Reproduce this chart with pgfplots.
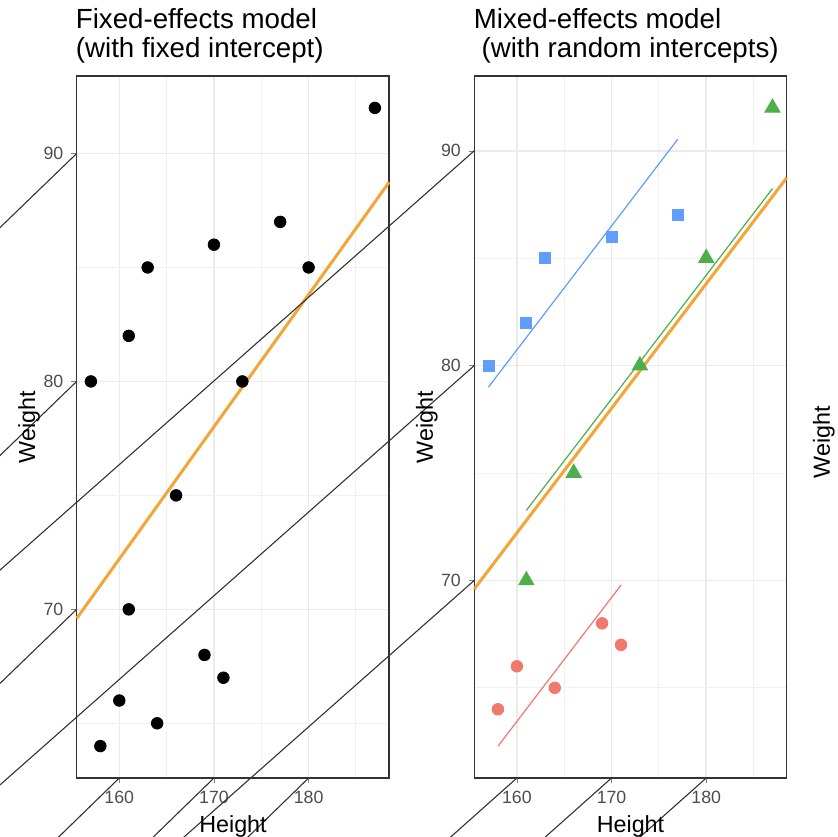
\documentclass[border=0pt]{standalone}
\usepackage{fontspec}
\setmainfont{Liberation Sans}
\usepackage{pgfplots}
\pgfplotsset{compat=1.18}

\definecolor{gridmaj}{HTML}{EBEBEB}
\definecolor{gridmin}{HTML}{F1F1F1}
\definecolor{border}{HTML}{333333}
\definecolor{ticklab}{HTML}{4D4D4D}
\definecolor{fitline}{HTML}{F5A536}
\definecolor{grpred}{HTML}{F0786C}
\definecolor{grpgreen}{HTML}{4DAF4A}
\definecolor{grpblue}{HTML}{619CFF}

\tikzset{tk/.style={draw=border, line width=0.55bp}}

\pgfplotsset{
  panel/.style={
    scale only axis, width=156.2bp, height=351bp,
    xmin=155.5, xmax=188.5,
    xtick={160,170,180}, minor xtick={155,165,175,185},
    ytick={70,80,90}, minor ytick={65,75,85},
    grid=both,
    major grid style={color=gridmaj, line width=0.75bp},
    minor grid style={color=gridmin, line width=0.45bp},
    axis line style={color=border, line width=0.6bp},
    tick align=outside, tick pos=left,
    major tick length=2.6bp, minor tick length=0pt,
    ticklabel style={font=\fontsize{8.9}{10}\selectfont, color=ticklab},
    xticklabel style={yshift=-0.4bp},
    yticklabel style={xshift=-0.6bp},
    /pgf/number format/assume math mode=true,
    clip=false,
    anchor=south west,
  },
}

\begin{document}
\begin{tikzpicture}
\path[use as bounding box] (0,0) rectangle (419bp,418.5bp);

% fixed-effects panel
\begin{axis}[panel, at={(38.35bp,29.5bp)}, ymin=62.6, ymax=93.4]
  \addplot[fitline, line width=1.5bp] coordinates {(155.5,69.6) (188.5,88.74)};
  \addplot[only marks, mark=*, mark size=2.9bp, black] coordinates {
    (157,80) (158,64) (160,66) (161,82) (161,70) (163,85) (164,65) (166,75)
    (169,68) (170,86) (171,67) (173,80) (177,87) (180,85) (187,92)};
  % tick marks
  \draw[tk] (axis cs:160,62.6) -- ++(0,-2.6bp);
  \draw[tk] (axis cs:170,62.6) -- ++(0,-2.6bp);
  \draw[tk] (axis cs:180,62.6) -- ++(0,-2.6bp);
  \draw[tk] (axis cs:155.5,70) -- ++(-2.6bp,0);
  \draw[tk] (axis cs:155.5,80) -- ++(-2.6bp,0);
  \draw[tk] (axis cs:155.5,90) -- ++(-2.6bp,0);
\end{axis}

% mixed-effects panel
\begin{axis}[panel, at={(237.15bp,29.5bp)}, ymin=60.8, ymax=93.48]
  \addplot[only marks, mark=*, mark size=2.9bp, grpred] coordinates {
    (158,64) (160,66) (164,65) (169,68) (171,67)};
  \addplot[only marks, mark=triangle*, mark size=4.4bp, grpgreen] coordinates {
    (161,70) (166,75) (173,80) (180,85) (187,92)};
  \addplot[only marks, mark=square*, mark size=2.75bp, grpblue] coordinates {
    (157,80) (161,82) (163,85) (170,86) (177,87)};
  \addplot[grpred, line width=0.6bp] coordinates {(158,62.28) (171,69.78)};
  \addplot[grpgreen, line width=0.6bp] coordinates {(161,73.26) (187,88.24)};
  \addplot[grpblue, line width=0.6bp] coordinates {(157,79.0) (177,90.54)};
  \addplot[fitline, line width=1.5bp] coordinates {(155.5,69.6) (188.5,88.74)};
  % tick marks
  \draw[tk] (axis cs:160,60.8) -- ++(0,-2.6bp);
  \draw[tk] (axis cs:170,60.8) -- ++(0,-2.6bp);
  \draw[tk] (axis cs:180,60.8) -- ++(0,-2.6bp);
  \draw[tk] (axis cs:155.5,70) -- ++(-2.6bp,0);
  \draw[tk] (axis cs:155.5,80) -- ++(-2.6bp,0);
  \draw[tk] (axis cs:155.5,90) -- ++(-2.6bp,0);
\end{axis}

\begin{scope}[x=0.5bp, y=0.5bp]
% titles
\begin{scope}[every node/.style={inner sep=0pt, font=\fontsize{13.9}{16}\selectfont}]
  \node[anchor=base west] at (75.5,809) {Fixed-effects model};
  \node[anchor=base west] at (75.5,780) {(with fixed intercept)};
  \node[anchor=base west] at (473.5,809) {Mixed-effects model};
  \node[anchor=base west] at (473.5,780) {\hspace*{0.278em}(with random intercepts)};
\end{scope}

% axis titles
\begin{scope}[every node/.style={inner sep=0pt, font=\fontsize{11.7}{14}\selectfont}]
  \node[anchor=base] at (233,5) {Height};
  \node[anchor=base] at (630.5,5) {Height};
  \node[rotate=90, anchor=base] at (35,410) {Weight};
  \node[rotate=90, anchor=base] at (433,410) {Weight};
  \node[rotate=90, anchor=base] at (830,395) {Weight};
\end{scope}
\end{scope}
\end{tikzpicture}
\end{document}
